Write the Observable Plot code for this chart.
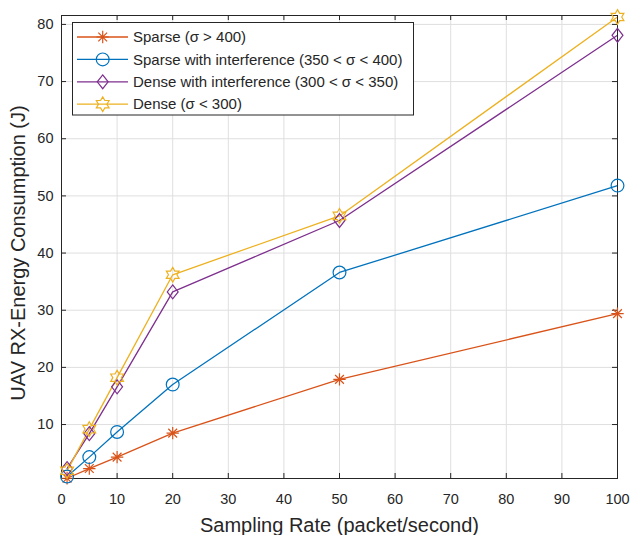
<!DOCTYPE html>
<html>
<head>
<meta charset="utf-8">
<script src="https://cdn.jsdelivr.net/npm/d3@7"></script>
<script src="https://cdn.jsdelivr.net/npm/@observablehq/plot@0.6"></script>
<style>
  html, body { margin: 0; padding: 0; background: #fff; }
  #chart { width: 633px; height: 535px; }
</style>
</head>
<body>
<div id="chart"></div>
<script>
// ---- data ----
const rates = [1, 5, 10, 20, 50, 100];
const sparse = [0.6, 2.3, 4.3, 8.5, 17.9, 29.4];
const sparseInterf = [0.9, 4.3, 8.7, 17.0, 36.6, 51.8];
const denseInterf = [2.3, 8.4, 16.6, 33.2, 45.7, 78.1];
const dense = [1.9, 9.2, 18.2, 36.2, 46.5, 81.3];
const seriesNames = [
  "Sparse (σ > 400)",
  "Sparse with interference (350 < σ < 400)",
  "Dense with interference (300 < σ < 350)",
  "Dense (σ < 300)"
];
const xTicks = [0, 10, 20, 30, 40, 50, 60, 70, 80, 90, 100];
const yTicks = [10, 20, 30, 40, 50, 60, 70, 80];
const xLabel = "Sampling Rate (packet/second)";
const yLabel = "UAV RX-Energy Consumption (J)";

// ---- styling ----
const colors = ["#D95319", "#0072BD", "#7E2F8E", "#EDB120"];
const axisColor = "#262626";
const font = "'Liberation Sans', Arial, Helvetica, sans-serif";

// custom marker symbols (MATLAB-like)
const asterisk = {
  draw(ctx, size) {
    const r = Math.sqrt(size / Math.PI);
    const d = r * Math.SQRT1_2;
    ctx.moveTo(0, -r); ctx.lineTo(0, r);
    ctx.moveTo(-r, 0); ctx.lineTo(r, 0);
    ctx.moveTo(-d, -d); ctx.lineTo(d, d);
    ctx.moveTo(-d, d); ctx.lineTo(d, -d);
  }
};
const diamond = {
  draw(ctx, size) {
    const r = Math.sqrt(size / Math.PI);
    ctx.moveTo(0, -r * 1.12);
    ctx.lineTo(r * 0.88, 0);
    ctx.lineTo(0, r * 1.12);
    ctx.lineTo(-r * 0.88, 0);
    ctx.closePath();
  }
};
const hexagram = {
  draw(ctx, size) {
    const R = Math.sqrt(size / Math.PI) * 1.15;
    const ri = R / Math.sqrt(3);
    for (let i = 0; i < 12; i++) {
      const a = -Math.PI / 2 + i * Math.PI / 6;
      const rr = i % 2 === 0 ? R : ri;
      const px = rr * Math.cos(a), py = rr * Math.sin(a);
      if (i === 0) ctx.moveTo(px, py); else ctx.lineTo(px, py);
    }
    ctx.closePath();
  }
};
const circle = {
  draw(ctx, size) {
    const r = Math.sqrt(size / Math.PI);
    ctx.moveTo(r, 0);
    ctx.arc(0, 0, r, 0, 2 * Math.PI);
  }
};
const symbols = [asterisk, circle, diamond, hexagram];
const markerR = [6.2, 6.4, 6.2, 6.4];

// table built from the arrays
const allSeries = [sparse, sparseInterf, denseInterf, dense];
const rows = [];
allSeries.forEach((vals, si) => {
  vals.forEach((v, i) => rows.push({series: seriesNames[si], si, x: rates[i], y: v}));
});

const W = 633, H = 535;
const mL = 61, mR = 16, mT = 15, mB = 57;
const plotW = W - mL - mR, plotH = H - mT - mB;
const tickLen = 5;

const marks = [
  Plot.ruleX(xTicks, {stroke: "#dfdfdf", strokeWidth: 1}),
  Plot.ruleY(yTicks, {stroke: "#dfdfdf", strokeWidth: 1}),
];
allSeries.forEach((vals, si) => {
  const data = rows.filter(d => d.si === si);
  marks.push(Plot.line(data, {x: "x", y: "y", stroke: colors[si], strokeWidth: 1.3}));
});
marks.push(Plot.frame({stroke: axisColor, strokeWidth: 1}));
// inward ticks on all four sides
marks.push(Plot.tickX(xTicks, {x: d => d, stroke: axisColor, insetTop: plotH - tickLen}));
marks.push(Plot.tickX(xTicks, {x: d => d, stroke: axisColor, insetBottom: plotH - tickLen}));
marks.push(Plot.tickY(yTicks, {y: d => d, stroke: axisColor, insetRight: plotW - tickLen}));
marks.push(Plot.tickY(yTicks, {y: d => d, stroke: axisColor, insetLeft: plotW - tickLen}));
allSeries.forEach((vals, si) => {
  const data = rows.filter(d => d.si === si);
  marks.push(Plot.dot(data, {x: "x", y: "y", r: markerR[si], symbol: () => symbols[si],
    stroke: colors[si], fill: "none", strokeWidth: 1.2}));
});
// axis labels
marks.push(Plot.text([xLabel], {text: d => d, frameAnchor: "bottom", dy: 47, lineAnchor: "middle",
  textAnchor: "middle", fontSize: 20, fill: axisColor}));
marks.push(Plot.text([yLabel], {text: d => d, frameAnchor: "left", dx: -43, dy: 6, rotate: -90,
  lineAnchor: "middle", textAnchor: "middle", fontSize: 20, fill: axisColor}));

const chart = Plot.plot({
  width: W, height: H,
  marginLeft: mL, marginRight: mR, marginTop: mT, marginBottom: mB,
  style: {fontFamily: font, fontSize: "14.5px", color: axisColor, background: "#fff"},
  x: {domain: [0, 100], ticks: xTicks, tickSize: 0, tickPadding: 15, label: null},
  y: {domain: [0.56, 81.56], ticks: yTicks, tickSize: 0, tickPadding: 8, label: null},
  marks
});
document.getElementById("chart").appendChild(chart);

// legend inside the axes (top-left)
const svg = d3.select(chart.tagName.toLowerCase() === "svg" ? chart : chart.querySelector("svg"));
const lg = svg.append("g").attr("font-family", font).attr("font-size", 15).attr("text-anchor", "start");
lg.append("rect").attr("x", 72.5).attr("y", 22.5).attr("width", 341).attr("height", 92.5)
  .attr("fill", "#fff").attr("stroke", axisColor).attr("stroke-width", 1);
seriesNames.forEach((name, si) => {
  const cy = 37 + si * 22.4;
  lg.append("line").attr("x1", 77).attr("x2", 128).attr("y1", cy).attr("y2", cy)
    .attr("stroke", colors[si]).attr("stroke-width", 1.3);
  lg.append("path")
    .attr("d", d3.symbol(symbols[si], Math.PI * markerR[si] * markerR[si])())
    .attr("transform", `translate(102.7,${cy})`)
    .attr("fill", "none").attr("stroke", colors[si]).attr("stroke-width", 1.2);
  lg.append("text").attr("x", 133).attr("y", cy).attr("dy", "0.35em")
    .attr("text-anchor", "start").attr("fill", axisColor).text(name);
});
</script>
</body>
</html>
